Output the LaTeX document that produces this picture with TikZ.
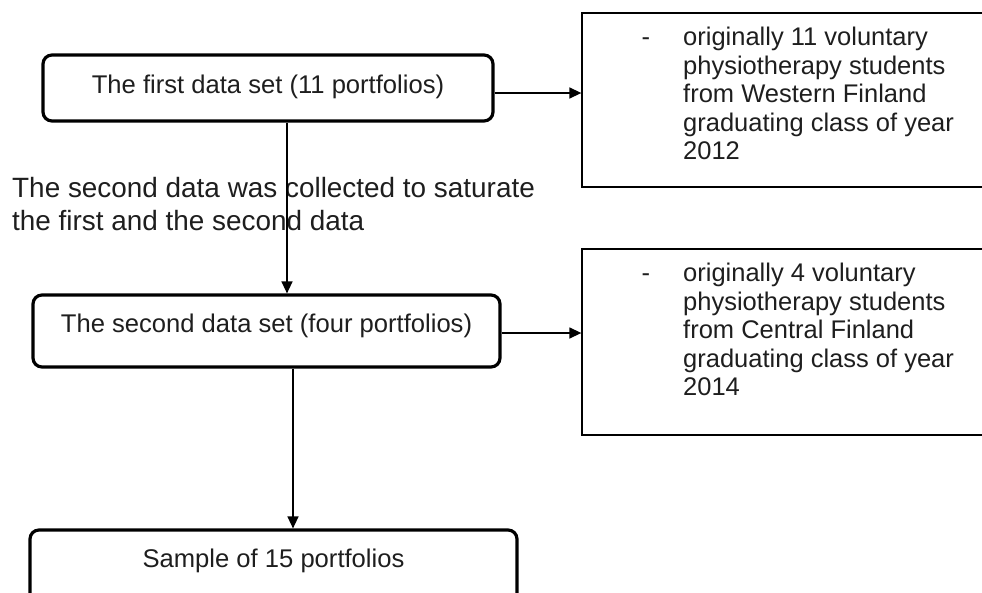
\documentclass[tikz,border=0pt]{standalone}
\usepackage{fontspec}
\setmainfont{Liberation Sans}
\usetikzlibrary{arrows.meta,calc}
\definecolor{ink}{HTML}{1E1E1E}
\begin{document}
\begin{tikzpicture}[x=1pt,y=-1pt,
  roundbox/.style={draw=black, line width=3.2pt, rounded corners=9pt, inner sep=0pt,
    text=ink, font=\fontsize{25.6}{28}\selectfont},
  notebox/.style={draw=black, line width=1.3pt, inner sep=0pt},
  notetext/.style={anchor=north west, align=left, inner sep=0pt, text=ink,
    font=\fontsize{25.5}{28.5}\selectfont},
  conn/.style={draw=black, line width=1.4pt, -{Triangle[length=12pt,width=11pt]}}
]
\useasboundingbox (0,0) rectangle (982,592);
\clip (0,0) rectangle (982,592);

% main boxes
\node[roundbox, minimum width=450pt, minimum height=66pt, text height=25pt, text depth=15pt] (b1) at (268,88) {The first data set (11 portfolios)};
\node[roundbox, minimum width=467pt, minimum height=72pt, text height=21pt, text depth=19pt] (b2) at (266.5,331) {The second data set (four portfolios)};
\node[roundbox, minimum width=487pt, minimum height=72pt, text height=21pt, text depth=19pt] (b3) at (273.5,566) {Sample of 15 portfolios};

% note boxes
\node[notebox, minimum width=418pt, minimum height=174pt] (r1) at (791,100) {};
\node[notebox, minimum width=418pt, minimum height=186pt] (r2) at (791,342) {};

\node[notetext] (t1) at (683,27) {\makebox[0pt][r]{-\hspace{33pt}}originally 11 voluntary\\physiotherapy students\\from Western Finland\\graduating class of year\\2012};
\node[notetext] (t2) at (683,263) {\makebox[0pt][r]{-\hspace{33pt}}originally 4 voluntary\\physiotherapy students\\from Central Finland\\graduating class of year\\2014};

% annotation
\node[anchor=north west, align=left, inner sep=0pt, text=ink, font=\fontsize{27.9}{33}\selectfont] (ann) at (12,177) {The second data was collected to saturate\\the first and the second data};

% connectors
\coordinate (a1) at ([yshift=-5pt]b1.east);
\draw[conn] (a1) -- (a1 -| r1.west);
\coordinate (v1) at ([xshift=19pt]b1.south);
\draw[conn] (v1) -- (v1 |- b2.north);
\coordinate (a2) at ([yshift=-2pt]b2.east);
\draw[conn] (a2) -- (a2 -| r2.west);
\coordinate (v2) at ([xshift=26.5pt]b2.south);
\draw[conn] (v2) -- (v2 |- b3.north);
\end{tikzpicture}
\end{document}
